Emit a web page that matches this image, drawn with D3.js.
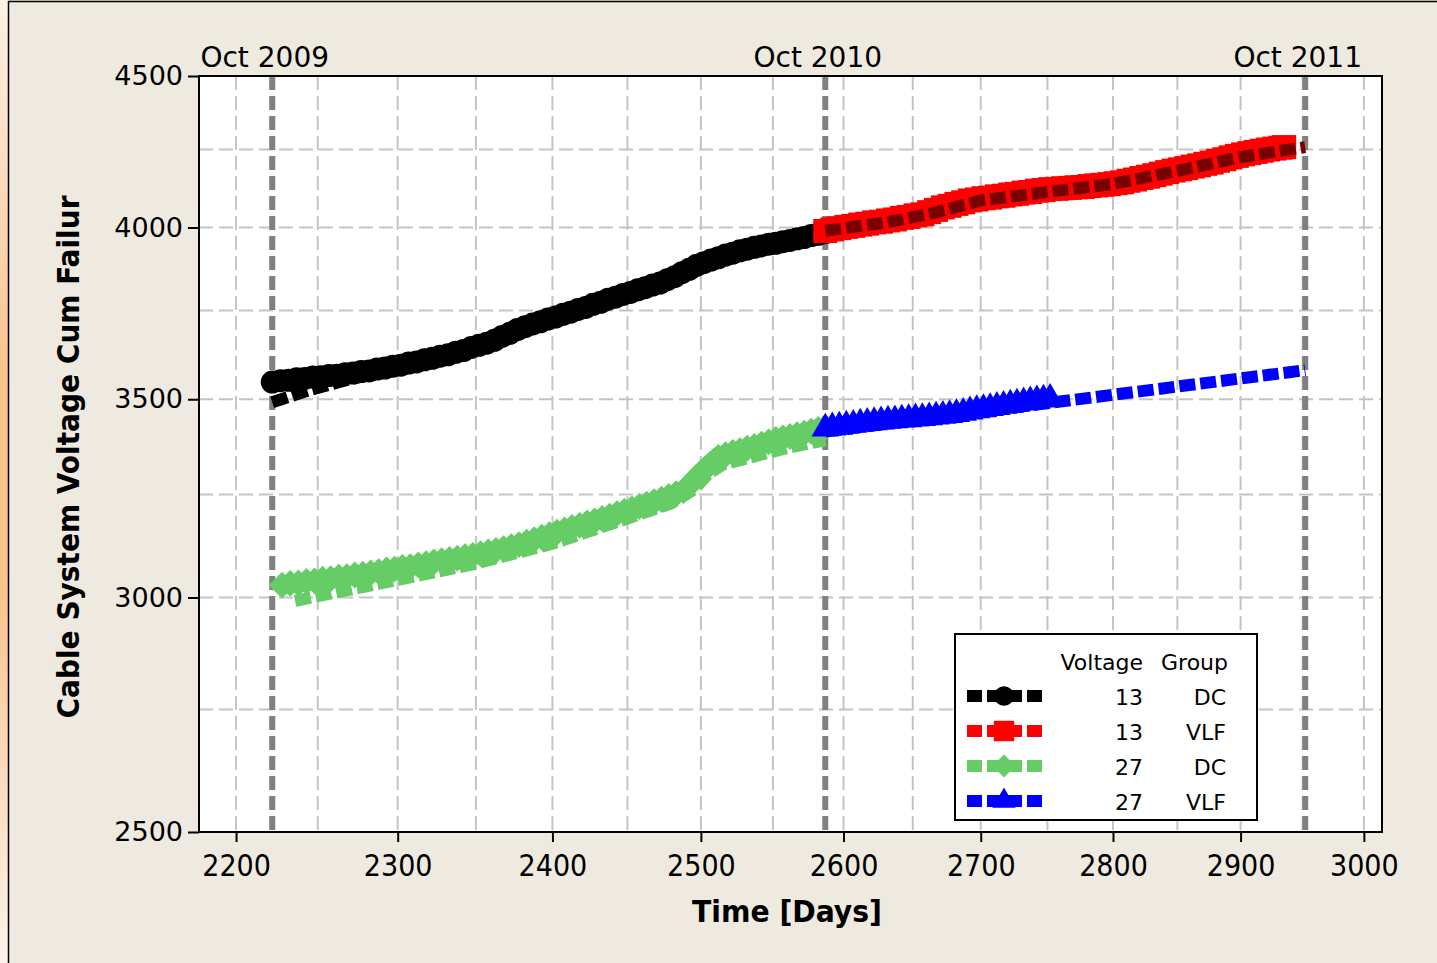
<!DOCTYPE html>
<html>
<head>
<meta charset="utf-8">
<script src="https://cdn.jsdelivr.net/npm/d3@7"></script>
<style>
  body { margin: 0; background: #eeeae0; }
  svg { display: block; }
</style>
</head>
<body>
<svg id="chart" width="1437" height="963"></svg>
<script>
// axis ticks
const xTicks = [2200, 2300, 2400, 2500, 2600, 2700, 2800, 2900, 3000];
const xMinor = [2250, 2350, 2450, 2550, 2650, 2750, 2850, 2950];
const yTicks = [2500, 3000, 3500, 4000, 4500];
const yMinor = [2750, 3250, 3750, 4250];

// reference lines (one year apart)
const refDays = [2222, 2587, 2952];
const refLabels = ["Oct 2009", "Oct 2010", "Oct 2011"];

// 13 kV, DC tested
const days13DC = [2222, 2227, 2232, 2237, 2242, 2247, 2252, 2257, 2262, 2267, 2272, 2277, 2282, 2287, 2292, 2297, 2302, 2307, 2312, 2317, 2322, 2327, 2332, 2337, 2342, 2347, 2352, 2357, 2362, 2367, 2372, 2377, 2382, 2387, 2392, 2397, 2402, 2407, 2412, 2417, 2422, 2427, 2432, 2437, 2442, 2447, 2452, 2457, 2462, 2467, 2472, 2477, 2482, 2487, 2492, 2497, 2502, 2507, 2512, 2517, 2522, 2527, 2532, 2537, 2542, 2547, 2552, 2557, 2562, 2567, 2572, 2577, 2582, 2587];
const fail13DC = [3547, 3551, 3552, 3556, 3557, 3561, 3562, 3565, 3566, 3570, 3572, 3576, 3578, 3583, 3586, 3591, 3594, 3600, 3603, 3609, 3613, 3619, 3623, 3630, 3635, 3644, 3650, 3656, 3664, 3675, 3684, 3695, 3703, 3711, 3717, 3725, 3731, 3739, 3745, 3753, 3759, 3768, 3774, 3783, 3789, 3797, 3803, 3811, 3817, 3825, 3831, 3841, 3850, 3862, 3872, 3884, 3892, 3900, 3907, 3915, 3921, 3928, 3933, 3939, 3943, 3948, 3951, 3956, 3960, 3965, 3969, 3975, 3979, 3984];
const lineDays13DC = [2222, 2245, 2270, 2300, 2350, 2400, 2450, 2500, 2550, 2587];
const lineFail13DC = [3492, 3525, 3555, 3582, 3637, 3720, 3792, 3880, 3942, 3980];

// 13 kV, VLF tested
const days13VLF = [2587, 2592, 2597, 2602, 2607, 2612, 2617, 2622, 2627, 2632, 2637, 2642, 2647, 2652, 2657, 2662, 2667, 2672, 2677, 2682, 2687, 2692, 2697, 2702, 2707, 2712, 2717, 2722, 2727, 2732, 2737, 2742, 2747, 2752, 2757, 2762, 2767, 2772, 2777, 2782, 2787, 2792, 2797, 2802, 2807, 2812, 2817, 2822, 2827, 2832, 2837, 2842, 2847, 2852, 2857, 2862, 2867, 2872, 2877, 2882, 2887, 2892, 2897, 2902, 2907, 2912, 2917, 2922, 2927, 2932, 2935];
const fail13VLF = [3989, 3994, 3998, 4002, 4005, 4009, 4012, 4016, 4018, 4022, 4025, 4030, 4033, 4038, 4041, 4048, 4055, 4063, 4068, 4074, 4079, 4085, 4088, 4092, 4094, 4098, 4100, 4104, 4106, 4110, 4112, 4116, 4118, 4121, 4122, 4124, 4125, 4127, 4128, 4131, 4133, 4135, 4137, 4140, 4143, 4148, 4152, 4157, 4161, 4166, 4171, 4176, 4181, 4185, 4189, 4194, 4198, 4203, 4207, 4213, 4218, 4224, 4229, 4234, 4238, 4242, 4246, 4250, 4253, 4256, 4258];
const lineDays13VLF = [2587, 2630, 2665, 2700, 2750, 2800, 2850, 2900, 2952];
const lineFail13VLF = [3990, 4015, 4045, 4085, 4112, 4138, 4180, 4225, 4258];

// 27 kV, DC tested
const days27DC = [2228, 2233, 2238, 2243, 2248, 2253, 2258, 2263, 2268, 2273, 2278, 2283, 2288, 2293, 2298, 2303, 2308, 2313, 2318, 2323, 2328, 2333, 2338, 2343, 2348, 2353, 2358, 2363, 2368, 2373, 2378, 2383, 2388, 2393, 2398, 2403, 2408, 2413, 2418, 2423, 2428, 2433, 2438, 2443, 2448, 2453, 2458, 2463, 2468, 2473, 2478, 2483, 2488, 2491, 2494, 2497, 2500, 2503, 2506, 2509, 2512, 2517, 2522, 2527, 2532, 2537, 2542, 2547, 2552, 2557, 2562, 2567, 2572, 2577, 2582, 2587];
const fail27DC = [3029, 3033, 3034, 3038, 3039, 3043, 3044, 3048, 3049, 3053, 3055, 3058, 3061, 3065, 3067, 3071, 3073, 3077, 3080, 3084, 3087, 3090, 3093, 3097, 3100, 3104, 3108, 3112, 3116, 3121, 3126, 3132, 3138, 3144, 3150, 3156, 3162, 3168, 3173, 3179, 3184, 3190, 3196, 3202, 3208, 3214, 3220, 3226, 3232, 3238, 3245, 3252, 3260, 3270, 3282, 3294, 3305, 3316, 3326, 3336, 3345, 3352, 3358, 3363, 3369, 3374, 3380, 3386, 3392, 3396, 3400, 3405, 3409, 3414, 3419, 3424];
const lineDays27DC = [2236, 2289, 2350, 2400, 2450, 2480, 2495, 2505, 2515, 2534, 2560, 2587];
const lineFail27DC = [2992, 3033, 3080, 3128, 3190, 3228, 3262, 3302, 3326, 3345, 3370, 3390];

// 27 kV, VLF tested
const days27VLF = [2587, 2592, 2597, 2602, 2607, 2612, 2617, 2622, 2627, 2632, 2637, 2642, 2647, 2652, 2657, 2662, 2667, 2672, 2677, 2682, 2687, 2692, 2697, 2702, 2707, 2712, 2717, 2722, 2727, 2732, 2737, 2742, 2747, 2752];
const fail27VLF = [3421, 3424, 3426, 3429, 3431, 3434, 3436, 3438, 3440, 3442, 3443, 3445, 3446, 3448, 3449, 3451, 3453, 3455, 3457, 3460, 3463, 3467, 3470, 3473, 3476, 3479, 3482, 3485, 3488, 3491, 3494, 3497, 3499, 3501];
const lineDays27VLF = [2587, 2952];
const lineFail27VLF = [3413, 3580];

const groupVoltage = ["13", "13", "27", "27"];
const groupTest = ["DC", "VLF", "DC", "VLF"];

const svg = d3.select("#chart");
const W = 1437, H = 963;
const plot = { left: 199, right: 1382, top: 76, bottom: 832 };

// page frame
const defs = svg.append("defs");
const edge = defs.append("linearGradient").attr("id", "edge")
  .attr("x1", 0).attr("x2", 0).attr("y1", 0).attr("y2", 1);
edge.append("stop").attr("offset", "0%").attr("stop-color", "#fdf1e6");
edge.append("stop").attr("offset", "40%").attr("stop-color", "#fbc28a");
edge.append("stop").attr("offset", "60%").attr("stop-color", "#fbc28a");
edge.append("stop").attr("offset", "100%").attr("stop-color", "#fdf3ea");

svg.append("rect").attr("width", W).attr("height", H).attr("fill", "#eeeae0");
svg.append("rect").attr("width", 8).attr("height", H).attr("fill", "url(#edge)");
svg.append("line").attr("x1", 8.5).attr("x2", 8.5).attr("y1", 1).attr("y2", H).attr("stroke", "#000").attr("stroke-width", 1.5);
svg.append("line").attr("x1", 8).attr("x2", W).attr("y1", 1.5).attr("y2", 1.5).attr("stroke", "#000").attr("stroke-width", 1.5);

const x = d3.scaleLog().domain([2177.7, 3015]).range([plot.left, plot.right]);
const y = d3.scaleLog().domain([2500, 4500]).range([plot.bottom, plot.top]);

svg.append("rect")
  .attr("x", plot.left).attr("y", plot.top)
  .attr("width", plot.right - plot.left).attr("height", plot.bottom - plot.top)
  .attr("fill", "#fff");

// grid
const grid = svg.append("g")
  .attr("stroke", "#c4c4c4").attr("stroke-width", 2).attr("stroke-dasharray", "14,6");
grid.selectAll(".gx").data(xTicks.concat(xMinor).filter(d => x(d) < plot.right)).join("line")
  .attr("x1", d => x(d)).attr("x2", d => x(d))
  .attr("y1", plot.top).attr("y2", plot.bottom);
grid.selectAll(".gy").data(yTicks.concat(yMinor)).join("line")
  .attr("y1", d => y(d)).attr("y2", d => y(d))
  .attr("x1", plot.left).attr("x2", plot.right);

// reference lines
svg.append("g").selectAll("line").data(refDays).join("line")
  .attr("x1", d => x(d)).attr("x2", d => x(d))
  .attr("y1", plot.top).attr("y2", plot.bottom)
  .attr("stroke", "#808080").attr("stroke-width", 6).attr("stroke-dasharray", "14,6");

svg.append("g").selectAll("text").data(refDays).join("text")
  .attr("x", d => x(d) - 7.5).attr("y", 67)
  .attr("text-anchor", "middle")
  .style("font", "28px 'DejaVu Sans'")
  .attr("fill", "#000")
  .text((d, i) => refLabels[i]);

// series
const series = [
  { days: days13DC, vals: fail13DC, ld: lineDays13DC, lv: lineFail13DC, color: "#000000", line: "#000000", sym: "circle" },
  { days: days13VLF, vals: fail13VLF, ld: lineDays13VLF, lv: lineFail13VLF, color: "#ff0000", line: "#7a0000", sym: "square" },
  { days: days27DC, vals: fail27DC, ld: lineDays27DC, lv: lineFail27DC, color: "#66cc66", line: "#66cc66", sym: "diamond" },
  { days: days27VLF, vals: fail27VLF, ld: lineDays27VLF, lv: lineFail27VLF, color: "#0000ff", line: "#0000ff", sym: "triangle" }
];

function marker(sel, type, color, k) {
  if (type === "circle") {
    sel.append("circle").attr("r", 11.5 * k).attr("fill", color);
  } else if (type === "square") {
    sel.append("rect").attr("x", -12 * k).attr("y", -12 * k).attr("width", 24 * k).attr("height", 24 * k).attr("fill", color);
  } else if (type === "diamond") {
    sel.append("rect").attr("x", -9.5 * k).attr("y", -9.5 * k).attr("width", 19 * k).attr("height", 19 * k)
      .attr("transform", "rotate(45)").attr("fill", color);
  } else {
    sel.append("path").attr("d", d3.symbol().type(d3.symbolTriangle).size(330 * k * k)()).attr("fill", color);
  }
}

const line = d3.line().x(d => x(d[0])).y(d => y(d[1]));

series.forEach(s => {
  const g = svg.append("g");
  g.selectAll("g").data(d3.zip(s.days, s.vals)).join("g")
    .attr("transform", d => `translate(${x(d[0])},${y(d[1])})`)
    .each(function () { marker(d3.select(this), s.sym, s.color, 1); });
  g.append("path")
    .datum(d3.zip(s.ld, s.lv))
    .attr("d", line)
    .attr("fill", "none")
    .attr("stroke", s.line)
    .attr("stroke-width", 12)
    .attr("stroke-dasharray", "16,5");
});

// frame + axes
svg.append("rect")
  .attr("x", plot.left).attr("y", plot.top)
  .attr("width", plot.right - plot.left).attr("height", plot.bottom - plot.top)
  .attr("fill", "none").attr("stroke", "#000").attr("stroke-width", 2);

const xAxis = svg.append("g")
  .attr("transform", `translate(0,${plot.bottom})`)
  .call(d3.axisBottom(x).tickValues(xTicks).tickFormat(d3.format("d")).tickSize(10).tickPadding(13));
xAxis.select(".domain").remove();
xAxis.selectAll("line").attr("stroke-width", 2);
xAxis.selectAll("text").style("font", "30px 'DejaVu Sans Condensed'").attr("fill", "#000");

const yAxis = svg.append("g")
  .attr("transform", `translate(${plot.left},0)`)
  .call(d3.axisLeft(y).tickValues(yTicks).tickFormat(d3.format("d")).tickSize(11).tickPadding(5));
yAxis.select(".domain").remove();
yAxis.selectAll("line").attr("stroke-width", 2);
yAxis.selectAll("text").style("font", "27px 'DejaVu Sans'").attr("fill", "#000");

svg.append("text")
  .attr("x", 787).attr("y", 922)
  .attr("text-anchor", "middle")
  .style("font", "bold 30px 'DejaVu Sans Condensed'")
  .attr("textLength", 190).attr("lengthAdjust", "spacingAndGlyphs")
  .text("Time [Days]");

svg.append("text")
  .attr("transform", "translate(79,457) rotate(-90)")
  .attr("text-anchor", "middle")
  .style("font", "bold 30px 'DejaVu Sans Condensed'")
  .attr("textLength", 523).attr("lengthAdjust", "spacingAndGlyphs")
  .text("Cable System Voltage Cum Failur");

// legend
const lg = svg.append("g");
lg.append("rect").attr("x", 955).attr("y", 634).attr("width", 302).attr("height", 186)
  .attr("fill", "#fff").attr("stroke", "#000").attr("stroke-width", 2);
lg.append("text").attr("x", 1143).attr("y", 670).attr("text-anchor", "end")
  .style("font", "22px 'DejaVu Sans'").text("Voltage");
lg.append("text").attr("x", 1228).attr("y", 670).attr("text-anchor", "end")
  .style("font", "22px 'DejaVu Sans'").text("Group");

series.forEach((s, i) => {
  const cy = 696 + i * 35;
  lg.append("line").attr("x1", 967).attr("x2", 1042).attr("y1", cy).attr("y2", cy)
    .attr("stroke", s.color).attr("stroke-width", 12).attr("stroke-dasharray", "15,5");
  const m = lg.append("g").attr("transform", `translate(1004,${cy})`);
  marker(m, s.sym, s.color, 0.85);
  lg.append("text").attr("x", 1143).attr("y", cy + 9).attr("text-anchor", "end")
    .style("font", "22px 'DejaVu Sans'").text(groupVoltage[i]);
  lg.append("text").attr("x", 1226).attr("y", cy + 9).attr("text-anchor", "end")
    .style("font", "22px 'DejaVu Sans'").text(groupTest[i]);
});
</script>
</body>
</html>
